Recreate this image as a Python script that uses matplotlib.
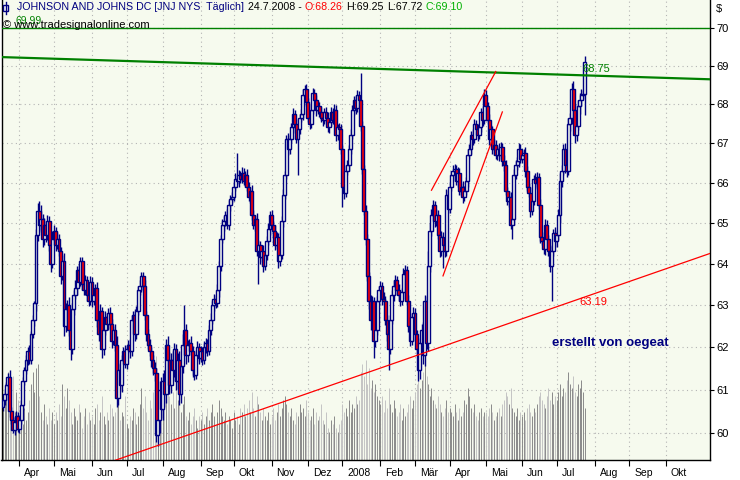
import numpy as np
import pandas as pd
import matplotlib
matplotlib.use('Agg')
import matplotlib.pyplot as plt
import matplotlib.transforms as mtransforms
from matplotlib.collections import LineCollection
from matplotlib.patches import Rectangle
from matplotlib.lines import Line2D
from matplotlib.ticker import FixedLocator, NullLocator, FixedFormatter

plt.rcParams['font.family'] = ['Liberation Sans', 'DejaVu Sans']

# JNJ daily, first bar 2007-03-19, last bar 2008-07-24
START = '2007-03-19'
first_open = 60.6

close = [
    60.76, 60.9, 61.1, 61.3, 60.5, 60.3, 60.07, 60.25, 60.4, 60.1,  # Mar 07
    60.3, 60.65, 61.2, 61.45, 61.7, 61.9, 61.7, 62.3, 62.65, 63.05, 64.7, 65.3, 64.95,
    65.1, 64.6, 64.95, 64.7, 65.05, 64.45, 64.0, 64.6,  # Apr
    64.8, 64.45, 64.6, 64.3, 63.7, 64.05, 62.5, 62.9, 63.0, 62.4, 61.95, 62.9, 63.25,
    63.4, 63.85, 63.55, 64.05, 63.5, 63.35, 63.6, 63.25, 63.1, 63.55,  # Mai
    63.1, 63.25, 63.4, 62.65, 62.3, 62.85, 61.95, 62.4, 62.7, 62.55, 62.8, 62.55, 62.15,
    62.4, 62.05, 60.8, 61.45, 61.1, 61.7, 61.9, 61.6,  # Jun
    61.95, 62.05, 61.9, 62.65, 62.75, 62.3, 62.85, 63.35, 63.45, 63.7, 63.45, 62.75,
    62.3, 62.05, 61.9, 61.7, 61.5, 61.4, 59.95, 60.3, 61.0, 60.55,  # Jul
    61.2, 60.9, 62.05, 61.7, 61.1, 61.7, 61.45, 61.95, 61.2, 61.7, 60.9, 61.55, 62.05,
    62.4, 61.8, 62.05, 62.1, 61.9, 61.45, 61.35, 61.8, 62.0, 61.75,  # Aug
    61.9, 61.7, 62.0, 62.1, 61.9, 62.4, 62.65, 63.0, 63.15, 63.05, 63.35, 63.95, 64.6,
    64.95, 65.05, 65.2, 64.95, 65.45, 65.6, 65.65,  # Sep
    65.9, 66.1, 66.05, 66.2, 66.1, 66.25, 66.05, 66.2, 65.9, 65.65, 65.8, 65.2, 64.95,
    65.1, 64.3, 64.45, 64.15, 64.3, 63.95, 64.2, 64.55, 64.85, 65.2,  # Okt
    64.95, 64.8, 64.45, 64.65, 64.05, 64.2, 65.05, 65.7, 66.2, 67.1, 66.85, 67.1, 67.4,
    67.75, 67.5, 67.1, 67.35, 67.65, 67.75, 68.25, 68.4, 68.05,  # Nov
    67.65, 67.5, 67.85, 68.3, 68.1, 67.85, 67.95, 67.8, 67.65, 67.6, 67.8, 67.65, 67.4,
    67.55, 67.8, 67.6, 67.85, 67.2, 67.4, 67.35, 66.85,  # Dez
    65.9, 65.75, 66.3, 66.45, 66.85, 67.2, 67.85, 68.1, 67.9, 68.25, 68.1, 67.45, 66.35,
    65.3, 64.6, 63.7, 63.1, 62.65, 63.1, 62.15, 62.4, 63.1, 63.35,  # Jan 08
    63.45, 63.15, 63.1, 62.65, 62.3, 61.95, 62.65, 63.25, 63.45, 63.6, 63.35, 63.25,
    63.1, 63.3, 63.75, 63.85, 63.1, 62.5, 62.15, 62.7, 62.8,  # Feb
    62.3, 61.95, 61.45, 62.1, 62.4, 61.8, 63.1, 62.1, 63.95, 64.8, 65.2, 65.45, 65.05,
    65.2, 64.7, 64.3, 64.65, 64.45, 64.3, 65.7, 65.35,  # Mar
    65.9, 66.2, 66.3, 66.35, 66.05, 66.25, 65.8, 65.9, 65.65, 65.8, 66.05, 66.7, 66.85,
    67.2, 67.1, 67.5, 67.35, 67.2, 67.4, 67.8, 67.6, 68.25,  # Apr
    67.95, 67.6, 67.1, 67.35, 66.85, 66.95, 66.7, 66.85, 66.7, 66.9, 66.55, 66.45, 65.8,
    65.55, 65.65, 64.95, 65.1, 66.2, 66.45, 66.55, 66.85, 66.6,  # Mai
    66.7, 66.75, 66.3, 65.9, 65.75, 65.3, 65.55, 66.1, 66.0, 66.15, 65.45, 64.65, 64.55,
    64.35, 64.95, 64.6, 64.3, 63.95, 64.3, 64.75, 64.55,  # Jun
    64.7, 65.2, 66.05, 66.3, 66.85, 66.45, 66.3, 67.5, 67.65, 68.4, 67.85, 67.2, 67.45,
    67.95, 68.1, 68.25, 68.26, 69.10,  # Jul
]

# upper / lower shadow length in cents
wick_up = [
    10, 12, 8, 10, 15, 10, 8, 12, 10, 9,
    8, 12, 10, 9, 12, 10, 15, 8, 10, 5, 15, 20, 25, 35, 12, 18, 10, 15, 12, 10, 20,
    15, 10, 18, 12, 10, 15, 20, 15, 12, 18, 25, 15, 12, 20, 10, 15, 12, 10, 15, 12, 10, 12, 15,
    12, 15, 10, 15, 12, 18, 10, 12, 15, 10, 12, 15, 12, 10, 15, 20, 18, 15, 12, 10, 15,
    10, 12, 15, 12, 10, 15, 12, 10, 15, 10, 10, 15, 10, 12, 15, 10, 12, 15, 10, 25, 20, 30,
    20, 25, 15, 20, 18, 15, 20, 15, 12, 15, 20, 15, 25, 60, 15, 12, 10, 15, 12, 10, 12, 15, 10,
    12, 10, 15, 12, 10, 12, 15, 10, 12, 10, 15, 12, 10, 15, 12, 10, 15, 12, 10, 12,
    12, 15, 65, 12, 10, 15, 12, 10, 15, 12, 10, 15, 12, 10, 15, 12, 10, 12, 15, 10, 12, 15, 10,
    12, 10, 15, 12, 10, 15, 12, 15, 10, 12, 15, 10, 12, 15, 10, 12, 15, 10, 12, 15, 10, 12,
    12, 10, 15, 12, 10, 15, 12, 10, 12, 15, 10, 12, 15, 10, 12, 10, 15, 12, 10, 12, 15,
    10, 12, 15, 12, 10, 15, 12, 10, 15, 12, 10, 70, 12, 10, 15, 12, 10, 15, 12, 10, 15, 12, 10,
    12, 10, 15, 12, 10, 15, 12, 10, 15, 12, 10, 15, 12, 10, 15, 12, 10, 15, 12, 10, 15,
    12, 10, 15, 12, 15, 20, 15, 12, 35, 20, 15, 12, 10, 15, 12, 10, 15, 12, 10, 15, 12,
    12, 10, 15, 12, 10, 15, 12, 10, 15, 12, 10, 15, 12, 10, 15, 12, 10, 15, 12, 10, 15, 15,
    12, 10, 15, 12, 10, 15, 12, 10, 15, 12, 10, 15, 12, 10, 15, 12, 10, 15, 12, 10, 15, 12,
    12, 10, 15, 12, 10, 15, 12, 10, 15, 12, 10, 15, 12, 10, 15, 12, 10, 15, 12, 10, 15,
    12, 15, 20, 15, 12, 15, 20, 15, 12, 15, 20, 15, 12, 15, 20, 15, 12, 15,
]
wick_dn = [
    10, 12, 15, 10, 12, 10, 7, 12, 10, 8,
    10, 8, 12, 10, 8, 12, 10, 9, 8, 15, 20, 15, 18, 12, 20, 15, 18, 12, 15, 20, 12,
    12, 15, 10, 12, 20, 10, 25, 15, 12, 15, 25, 12, 15, 10, 15, 12, 10, 15, 12, 10, 15, 12, 10,
    15, 10, 12, 18, 15, 12, 20, 15, 12, 10, 15, 12, 18, 10, 15, 20, 15, 12, 15, 12, 10,
    12, 10, 15, 12, 10, 15, 12, 10, 12, 15, 10, 12, 15, 10, 12, 18, 15, 20, 15, 25, 30, 20,
    25, 30, 20, 25, 20, 18, 25, 15, 20, 18, 25, 20, 15, 12, 20, 15, 12, 10, 15, 12, 10, 12, 15,
    10, 12, 10, 15, 12, 10, 12, 10, 15, 12, 10, 15, 12, 10, 15, 12, 10, 12, 15, 10,
    10, 12, 10, 15, 12, 10, 12, 15, 10, 12, 15, 12, 10, 15, 12, 80, 15, 12, 15, 10, 12, 10, 15,
    10, 15, 12, 10, 15, 12, 10, 15, 12, 10, 15, 12, 10, 15, 12, 10, 90, 12, 10, 15, 12, 10,
    10, 15, 12, 10, 12, 15, 10, 12, 10, 15, 12, 10, 12, 15, 10, 12, 10, 15, 12, 10, 12,
    50, 15, 12, 10, 15, 12, 10, 12, 15, 10, 12, 15, 12, 10, 15, 12, 20, 25, 15, 42, 15, 12, 10,
    12, 15, 10, 12, 15, 50, 12, 10, 15, 12, 10, 15, 12, 10, 15, 12, 10, 15, 12, 10, 15,
    15, 12, 25, 20, 15, 20, 25, 15, 20, 15, 12, 10, 15, 12, 10, 15, 12, 55, 15, 12, 10,
    10, 12, 15, 10, 12, 15, 10, 12, 15, 10, 12, 15, 10, 12, 15, 10, 12, 15, 10, 12, 15, 10,
    10, 12, 15, 10, 12, 15, 10, 12, 15, 10, 12, 15, 10, 12, 15, 10, 35, 15, 10, 12, 15, 10,
    10, 12, 15, 10, 12, 15, 10, 12, 15, 10, 12, 15, 10, 12, 15, 10, 12, 15, 85, 12, 15,
    15, 12, 20, 15, 12, 20, 15, 12, 20, 15, 12, 20, 15, 12, 20, 15, 12, 54,
]

# volume in million shares
volume = [
    14, 19, 16, 22, 18, 13, 21, 12, 17, 15,
    11, 16, 9, 13, 10, 12, 15, 19, 22, 17, 23, 24, 16, 12, 10, 14, 11, 9, 13, 10, 12,
    9, 12, 10, 14, 11, 19, 16, 13, 18, 15, 12, 9, 13, 11, 10, 14, 12, 8, 11, 13, 9, 12, 10,
    11, 9, 13, 14, 10, 12, 16, 11, 9, 12, 10, 14, 13, 11, 12, 18, 15, 10, 12, 11, 16,
    9, 8, 11, 10, 13, 12, 9, 11, 14, 18, 13, 16, 12, 10, 15, 13, 17, 16, 26, 20, 17, 14,
    19, 15, 21, 18, 16, 14, 17, 13, 20, 15, 18, 12, 14, 16, 11, 10, 12, 9, 11, 13, 10, 8, 11,
    10, 12, 9, 11, 13, 10, 12, 14, 11, 9, 12, 15, 13, 11, 10, 12, 9, 11, 10, 8,
    12, 10, 11, 9, 13, 12, 14, 11, 13, 15, 12, 17, 13, 11, 16, 14, 12, 10, 13, 11, 10, 12, 9,
    11, 13, 10, 12, 14, 11, 13, 15, 16, 14, 12, 11, 13, 10, 9, 12, 11, 14, 12, 13, 11, 15,
    12, 10, 11, 13, 9, 12, 10, 11, 14, 10, 9, 12, 8, 7, 10, 9, 11, 8, 7, 9, 10,
    14, 12, 13, 11, 15, 12, 14, 13, 16, 14, 15, 22, 24, 21, 25, 19, 23, 18, 20, 17, 19, 16, 15,
    14, 16, 12, 15, 13, 18, 14, 12, 15, 13, 11, 12, 14, 10, 13, 11, 12, 14, 16, 13, 15,
    17, 19, 23, 18, 20, 22, 26, 21, 19, 16, 18, 15, 14, 13, 16, 14, 12, 11, 13, 15, 12,
    13, 12, 11, 14, 12, 10, 13, 11, 12, 15, 14, 18, 16, 13, 12, 14, 11, 10, 12, 13, 11, 12,
    12, 11, 13, 14, 12, 10, 11, 12, 13, 11, 14, 15, 17, 16, 14, 18, 13, 12, 11, 13, 10, 12,
    11, 12, 10, 13, 14, 12, 11, 13, 12, 14, 16, 17, 15, 14, 13, 16, 18, 15, 17, 14, 16,
    15, 17, 19, 16, 18, 17, 20, 22, 19, 18, 21, 17, 16, 19, 18, 20, 17, 13,
]

month_labels = ['Apr', 'Mai', 'Jun', 'Jul', 'Aug', 'Sep', 'Okt', 'Nov', 'Dez', '2008',
                'Feb', 'Mär', 'Apr', 'Mai', 'Jun', 'Jul', 'Aug', 'Sep', 'Okt']
price_ticks = [60, 61, 62, 63, 64, 65, 66, 67, 68, 69, 70]

# drawn lines: (bar index, price)
resist_line = [(-1, 69.23), (353, 68.75)]
support_line = [(104, 59.85), (353, 63.19)]
channel_upper = [(260, 65.81), (299, 68.85)]
channel_lower = [(267, 63.70), (303, 67.80)]
level_price = 69.99

NAVY = '#000080'
RED = '#FF0000'
BG = '#F6FAEE'
GREEN = '#008000'


def extend_log(pts, x0, x1):
    (xa, ya), (xb, yb) = pts
    k = (np.log(yb) - np.log(ya)) / (xb - xa)
    xs = np.array([x0, x1])
    return xs, np.exp(np.log(ya) + k * (xs - xa))


n = len(close)
x = np.arange(n)
c = np.array(close)
o = np.array([first_open] + close[:-1])
hi = np.maximum(o, c) + np.array(wick_up) / 100
lo = np.minimum(o, c) - np.array(wick_dn) / 100
up = c >= o

all_days = pd.bdate_range(START, '2008-11-14')
months = all_days.to_period('M')
month_pos = [i for i in range(1, len(all_days)) if months[i] != months[i - 1]][:len(month_labels)]

fig = plt.figure(figsize=(7.4, 4.8), dpi=100, facecolor='white')
ax = fig.add_axes([1.5 / 740, 20 / 480, 708.5 / 740, 460 / 480])
ax.set_facecolor(BG)
ax.set_yscale('log')
ax.set_xlim(-0.9, 429)
ax.set_ylim(59.39, 70.75)

# volume bars at the bottom
vmax = 115.0
segs = [[(i, 0), (i, v / vmax)] for i, v in zip(x, volume)]
vcol = ['#8A8A8A' if u else '#C4C4C4' for u in up]
ax.add_collection(LineCollection(segs, colors=vcol, linewidths=0.7,
                                 transform=ax.get_xaxis_transform(), zorder=1),
                  autolim=False)

# candles
ax.vlines(x, lo, hi, color=NAVY, lw=1.0, zorder=2)
ax.bar(x, np.maximum(np.abs(c - o), 0.02), bottom=np.minimum(o, c), width=1.75,
       color=[BG if u else RED for u in up], edgecolor=NAVY, linewidth=1.0, zorder=3)

# trend lines
xs, ys = extend_log(resist_line, -1, 430)
ax.plot(xs, ys, color=GREEN, lw=1.6, zorder=4)
xs, ys = extend_log(support_line, 60, 430)
ax.plot(xs, ys, color=RED, lw=0.9, zorder=4)
for pts in (channel_upper, channel_lower):
    ax.plot([p[0] for p in pts], [p[1] for p in pts], color=RED, lw=0.9, zorder=4)
ax.axhline(level_price, color=GREEN, lw=1, zorder=4)

ax.text(351.5, resist_line[1][1] + 0.03, '68.75', color=GREEN, fontsize=8,
        va='bottom', ha='left', zorder=5)
ax.text(350, support_line[1][1] - 0.01, '63.19', color=RED, fontsize=8,
        va='top', ha='left', zorder=5)
ax.text(333, 62.1, 'erstellt von oegeat', color=NAVY, fontsize=9.5,
        fontweight='bold', va='center', ha='left', zorder=5)

# axes styling
ax.yaxis.tick_right()
ax.yaxis.set_major_locator(FixedLocator(price_ticks))
ax.yaxis.set_major_formatter(FixedFormatter([str(p) for p in price_ticks]))
ax.yaxis.set_minor_locator(NullLocator())
ax.tick_params(axis='y', length=3, width=0.8, pad=1.5, labelsize=8, colors='black')
ax.set_xticks(month_pos)
ax.set_xticklabels(month_labels)
ax.tick_params(axis='x', length=4, width=0.8, pad=2, labelsize=7.5)
shift = mtransforms.ScaledTranslation(5 / 100, 0, fig.dpi_scale_trans)
for lbl in ax.get_xticklabels():
    lbl.set_horizontalalignment('left')
    lbl.set_transform(lbl.get_transform() + shift)

ax.grid(True, color='#B4B4B4', linestyle=(0, (1, 3)), lw=0.8)
ax.set_axisbelow(True)
ax.spines['top'].set_visible(False)
for s in ('left', 'right', 'bottom'):
    ax.spines[s].set_color('black')
    ax.spines[s].set_linewidth(1)


# header
def fx(px):
    return px / 740


def fy(py):
    return 1 - py / 480


fig.add_artist(Line2D([fx(5.5), fx(5.5)], [fy(2), fy(14)], color=NAVY, lw=1,
                      transform=fig.transFigure))
fig.add_artist(Rectangle((fx(3), fy(11)), 5 / 740, 6 / 480, facecolor='white',
                         edgecolor=NAVY, lw=1, transform=fig.transFigure))

header = [
    ('JOHNSON AND JOHNS DC [JNJ NYS  Täglich]', NAVY),
    ('24.7.2008 -', 'black'),
    ('O:68.26', RED),
    ('H:69.25', 'black'),
    ('L:67.72', 'black'),
    ('C:69.10', '#00B000'),
]
fig.canvas.draw()
renderer = fig.canvas.get_renderer()
xpos = 17
for txt, col in header:
    t = fig.text(fx(xpos), fy(7), txt, color=col, fontsize=7.7, va='center', ha='left')
    xpos += t.get_window_extent(renderer=renderer).width + 3.5

fig.text(fx(15), fy(21), '69.99', color=GREEN, fontsize=7.5, va='center', ha='left')
fig.text(fx(3), fy(25), '© www.tradesignalonline.com', color='black', fontsize=8,
         va='center', ha='left')
fig.text(fx(716), fy(9), '$', color='black', fontsize=8, va='center', ha='left')

fig.savefig('out.png', dpi=100, facecolor='white')
